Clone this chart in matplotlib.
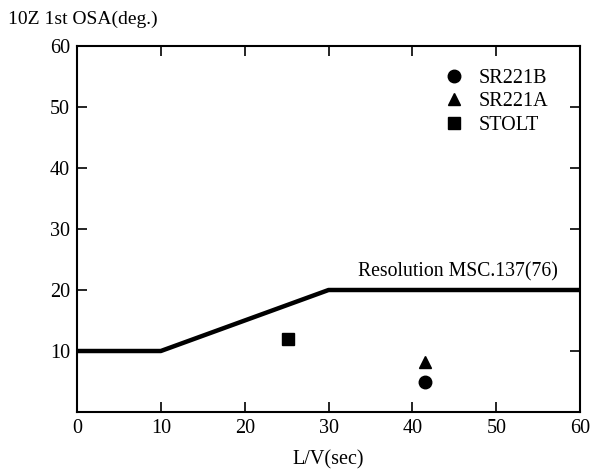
import matplotlib.pyplot as plt

plt.rcParams['font.family'] = ['Liberation Serif', 'DejaVu Serif']

# criterion line (Resolution MSC.137(76))
crit_x = [0, 10, 30, 60]
crit_y = [10, 10, 20, 20]

# ships
ships = ['SR221B', 'SR221A', 'STOLT']
ship_lv = [41.5, 41.5, 25.2]
ship_osa = [5, 8.2, 12]
ship_marker = ['o', '^', 's']

fig = plt.figure(figsize=(5.92, 4.69), dpi=100)
ax = fig.add_axes([0.130, 0.1215, 0.850, 0.7805])

ax.plot(crit_x, crit_y, color='black', lw=3.2, solid_capstyle='butt')
for name, x, y, m in zip(ships, ship_lv, ship_osa, ship_marker):
    ax.plot(x, y, m, color='black', ms=9 if m != 's' else 8, label=name)

ax.text(33.5, 23, 'Resolution MSC.137(76)', fontsize=14.2, va='center', ha='left')

ax.set_xlim(0, 60)
ax.set_ylim(0, 60)
ax.set_xticks([0, 10, 20, 30, 40, 50, 60])
ax.set_yticks([10, 20, 30, 40, 50, 60])
ax.tick_params(direction='in', length=7, width=1.2, labelsize=14.5,
               top=True, right=True, pad=5)
for s in ax.spines.values():
    s.set_linewidth(1.5)

ax.set_xlabel('L/V(sec)', fontsize=14.5, labelpad=9)
fig.text(0.013, 0.958, '10Z 1st OSA(deg.)', fontsize=14, va='center', ha='left')

ax.legend(loc='upper left', bbox_to_anchor=(0.71, 0.96), frameon=False,
          fontsize=14.5, handlelength=1.2, handletextpad=0.6, labelspacing=0.22,
          numpoints=1, borderaxespad=0)

fig.savefig('out.png', dpi=100)
